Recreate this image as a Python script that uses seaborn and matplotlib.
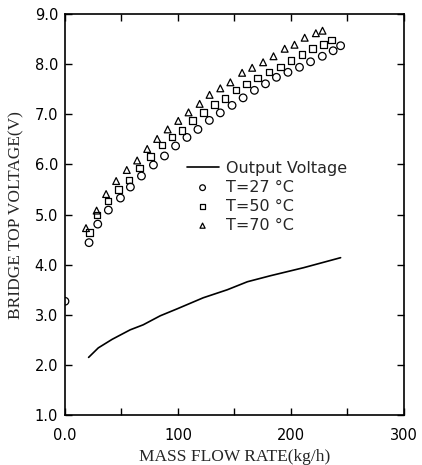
import numpy as np
import pandas as pd
import seaborn as sns
from matplotlib import pyplot as plt
from matplotlib.ticker import FixedLocator

# T=27 C (incl. the lone point on the y axis)
flow_27 = [0.0, 21.3, 29.0, 38.4, 49.1, 57.9, 67.7, 78.3, 88.1, 97.9, 108.0, 117.7,
           127.8, 137.5, 147.9, 157.7, 167.7, 177.5, 187.2, 197.4, 207.6, 217.4,
           227.8, 237.4, 244.0]
volt_27 = [3.27, 4.44, 4.81, 5.09, 5.33, 5.55, 5.77, 5.99, 6.17, 6.37, 6.54, 6.70,
           6.88, 7.03, 7.18, 7.33, 7.48, 7.61, 7.74, 7.84, 7.94, 8.05,
           8.16, 8.27, 8.37]

flow_50 = [21.5, 28.4, 37.9, 47.3, 56.5, 65.9, 75.7, 85.8, 94.7, 103.5, 113.1, 122.4,
           132.4, 141.6, 151.6, 160.9, 170.5, 180.8, 190.8, 200.3, 210.0, 218.9,
           228.7, 235.8]
volt_50 = [4.64, 4.99, 5.27, 5.50, 5.69, 5.93, 6.16, 6.39, 6.55, 6.68, 6.88, 7.04,
           7.20, 7.32, 7.49, 7.61, 7.73, 7.85, 7.95, 8.08, 8.20, 8.32,
           8.40, 8.48]

flow_70 = [18.6, 28.0, 36.4, 45.3, 54.7, 63.9, 72.8, 81.6, 90.9, 100.3, 109.4, 119.2,
           128.0, 137.5, 146.4, 156.8, 165.7, 175.4, 184.6, 194.5, 203.2, 212.2,
           222.1, 228.0]
volt_70 = [4.73, 5.08, 5.41, 5.67, 5.89, 6.08, 6.31, 6.51, 6.70, 6.87, 7.04, 7.21,
           7.39, 7.52, 7.64, 7.83, 7.93, 8.04, 8.16, 8.31, 8.39, 8.53,
           8.62, 8.67]

# output voltage curve
flow_out = [20.9, 29.5, 41.7, 57.7, 69.2, 84.3, 99.4, 122.4, 143.7, 161.5, 181.9, 211.2, 244.0]
volt_out = [2.15, 2.34, 2.51, 2.70, 2.80, 2.98, 3.12, 3.34, 3.50, 3.66, 3.78, 3.94, 4.14]

series = [
    ("T=27 \u00b0C", flow_27, volt_27, "o", 30),
    ("T=50 \u00b0C", flow_50, volt_50, "s", 22),
    ("T=70 \u00b0C", flow_70, volt_70, "^", 24),
]


def main():
    sns.set_style("ticks")
    plt.rcParams['font.family'] = ['DejaVu Sans']

    fig = plt.figure(figsize=(4.22, 4.65), dpi=100)
    ax = fig.add_axes([0.154, 0.1075, 0.803, 0.862])

    out_df = pd.DataFrame({'flow': flow_out, 'volt': volt_out})
    sns.lineplot(data=out_df, x='flow', y='volt', color='black', linewidth=1.2,
                 label='Output Voltage', ax=ax, sort=False)

    for name, fx, vy, mk, sz in series:
        df = pd.DataFrame({'flow': fx, 'volt': vy})
        sns.scatterplot(data=df, x='flow', y='volt', marker=mk, s=sz,
                        facecolor='none', edgecolor='black', linewidth=0.9,
                        label=name, ax=ax)

    ax.set_xlim(0, 300)
    ax.set_ylim(1.0, 9.0)
    ax.set_xticks([0, 100, 200, 300])
    ax.set_xticklabels(['0.0', '100', '200', '300'])
    ax.xaxis.set_minor_locator(FixedLocator([50, 150, 250]))
    ax.set_yticks(np.arange(1, 10))
    ax.set_yticklabels([f"{v:.1f}" for v in range(1, 10)])
    ax.tick_params(which='both', direction='in', top=True, right=True,
                   length=5, width=1.0, labelsize=10.5, colors='black')
    ax.tick_params(axis='x', pad=9)
    ax.tick_params(axis='y', pad=5)
    for sp in ax.spines.values():
        sp.set_linewidth(1.2)
        sp.set_color('black')

    ax.set_xlabel('MASS FLOW RATE(kg/h)', family='Liberation Serif', fontsize=12.5,
                  labelpad=5)
    ax.set_ylabel('BRIDGE TOP VOLTAGE(V)', family='Liberation Serif', fontsize=12.5,
                  labelpad=7)

    ax.legend(loc='upper left', bbox_to_anchor=(0.34, 0.65), frameon=False,
              fontsize=11.5, handlelength=2.0, handletextpad=0.45, markerscale=0.75,
              labelspacing=0.25, borderaxespad=0)

    fig.savefig('out.png', dpi=100)


if __name__ == "__main__":
    main()
